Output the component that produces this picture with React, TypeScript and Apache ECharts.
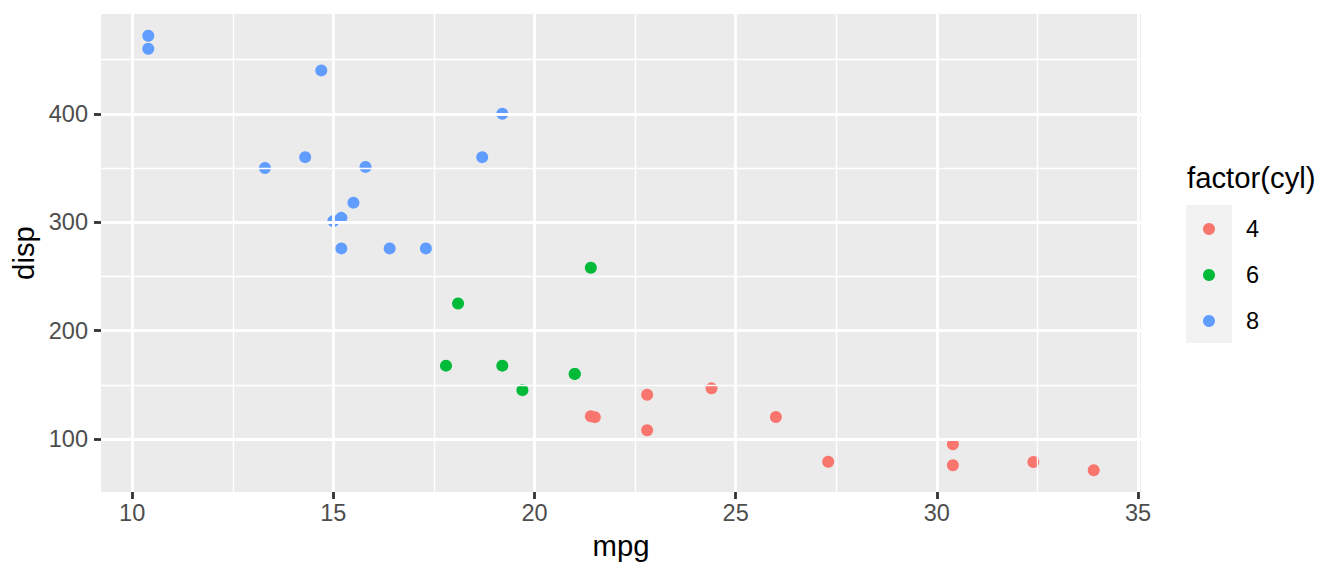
import React, { useEffect, useRef } from "react";
import * as echarts from "echarts";

const mpg4 = [22.8, 24.4, 22.8, 32.4, 30.4, 33.9, 21.5, 27.3, 26.0, 30.4, 21.4];
const disp4 = [108, 146.7, 140.8, 78.7, 75.7, 71.1, 120.1, 79, 120.3, 95.1, 121];
const mpg6 = [21.0, 21.0, 21.4, 18.1, 19.2, 17.8, 19.7];
const disp6 = [160, 160, 258, 225, 167.6, 167.6, 145];
const mpg8 = [18.7, 14.3, 16.4, 17.3, 15.2, 10.4, 10.4, 14.7, 15.5, 15.2, 13.3, 19.2, 15.8, 15.0];
const disp8 = [360, 360, 275.8, 275.8, 275.8, 472, 460, 440, 318, 304, 350, 400, 351, 301];

const groups = ["4", "6", "8"];
const groupColors = ["#F8766D", "#00BA38", "#619CFF"];
const xBreaks = [10, 15, 20, 25, 30, 35];
const xMinor = [12.5, 17.5, 22.5, 27.5, 32.5];
const yBreaks = [100, 200, 300, 400];
const yMinor = [150, 250, 350, 450];
const xRange = [9.225, 35.075];
const yRange = [51.055, 492.045];

const FONT = "'Liberation Sans', Arial, Helvetica, sans-serif";

export default function App() {
  const ref = useRef<HTMLDivElement>(null);
  useEffect(() => {
    if (!ref.current) return;
    const chart = echarts.init(ref.current, undefined, { renderer: "svg" });
    const pairs = (xs: number[], ys: number[]) => xs.map((x, i) => [x, ys[i]]);
    const data = [pairs(mpg4, disp4), pairs(mpg6, disp6), pairs(mpg8, disp8)];
    const gridLines = [
      ...xBreaks.map((v) => ({ xAxis: v, lineStyle: { color: "#FFFFFF", width: 2.8, type: "solid" } })),
      ...xMinor.map((v) => ({ xAxis: v, lineStyle: { color: "#FFFFFF", width: 1.4, type: "solid" } })),
      ...yBreaks.map((v) => ({ yAxis: v, lineStyle: { color: "#FFFFFF", width: 2.8, type: "solid" } })),
      ...yMinor.map((v) => ({ yAxis: v, lineStyle: { color: "#FFFFFF", width: 1.4, type: "solid" } })),
    ];
    const legendTops = [212, 258, 304];
    chart.setOption({
      animation: false,
      backgroundColor: "#FFFFFF",
      textStyle: { fontFamily: FONT },
      grid: {
        left: 101,
        top: 14,
        width: 1040,
        height: 478,
        show: true,
        backgroundColor: "#EBEBEB",
        borderWidth: 0,
      },
      xAxis: {
        type: "value",
        min: xRange[0],
        max: xRange[1],
        name: "mpg",
        nameLocation: "middle",
        nameGap: 39,
        nameTextStyle: { fontSize: 29.3, color: "#000000", fontFamily: FONT },
        axisLine: { show: false },
        axisTick: { show: true, customValues: xBreaks, length: 7, lineStyle: { color: "#333333", width: 2.8 } },
        axisLabel: { customValues: xBreaks, fontSize: 23.5, color: "#4D4D4D", margin: 9, fontFamily: FONT },
        splitLine: { show: false },
      },
      yAxis: {
        type: "value",
        min: yRange[0],
        max: yRange[1],
        name: "disp",
        nameLocation: "middle",
        nameGap: 62,
        nameRotate: 90,
        nameTextStyle: { fontSize: 29.3, color: "#000000", fontFamily: FONT },
        axisLine: { show: false },
        axisTick: { show: true, customValues: yBreaks, length: 7, lineStyle: { color: "#333333", width: 2.8 } },
        axisLabel: { customValues: yBreaks, fontSize: 23.5, color: "#4D4D4D", margin: 13, fontFamily: FONT },
        splitLine: { show: false },
      },
      legend: groups.map((g, i) => ({
        data: [g],
        orient: "vertical",
        left: 1198,
        top: legendTops[i],
        icon: "circle",
        itemWidth: 64,
        itemHeight: 12,
        selectedMode: false,
        textStyle: { fontSize: 23.5, color: "#000000", fontFamily: FONT },
      })),
      graphic: [
        { type: "rect", shape: { x: 1186, y: 205, width: 46, height: 138 }, style: { fill: "#F2F2F2" }, silent: true, z: -1 },
        {
          type: "text",
          x: 1187,
          y: 177,
          style: { text: "factor(cyl)", fontSize: 29.3, fill: "#000000", fontFamily: FONT, textVerticalAlign: "middle", textAlign: "left" },
          silent: true,
        },
      ],
      series: [
        {
          type: "line",
          data: [],
          z: 1,
          silent: true,
          markLine: { silent: true, symbol: "none", label: { show: false }, data: gridLines, animation: false },
        },
        ...groups.map((g, i) => ({
          type: "scatter",
          name: g,
          data: data[i],
          symbol: "circle",
          symbolSize: 12,
          itemStyle: { color: groupColors[i], opacity: 1 },
          z: 3,
        })),
      ],
    });
    return () => chart.dispose();
  }, []);
  return (
    <div
      ref={ref}
      style={{ position: "fixed", left: 0, top: 0, width: 1344, height: 576, background: "#FFFFFF" }}
    />
  );
}
